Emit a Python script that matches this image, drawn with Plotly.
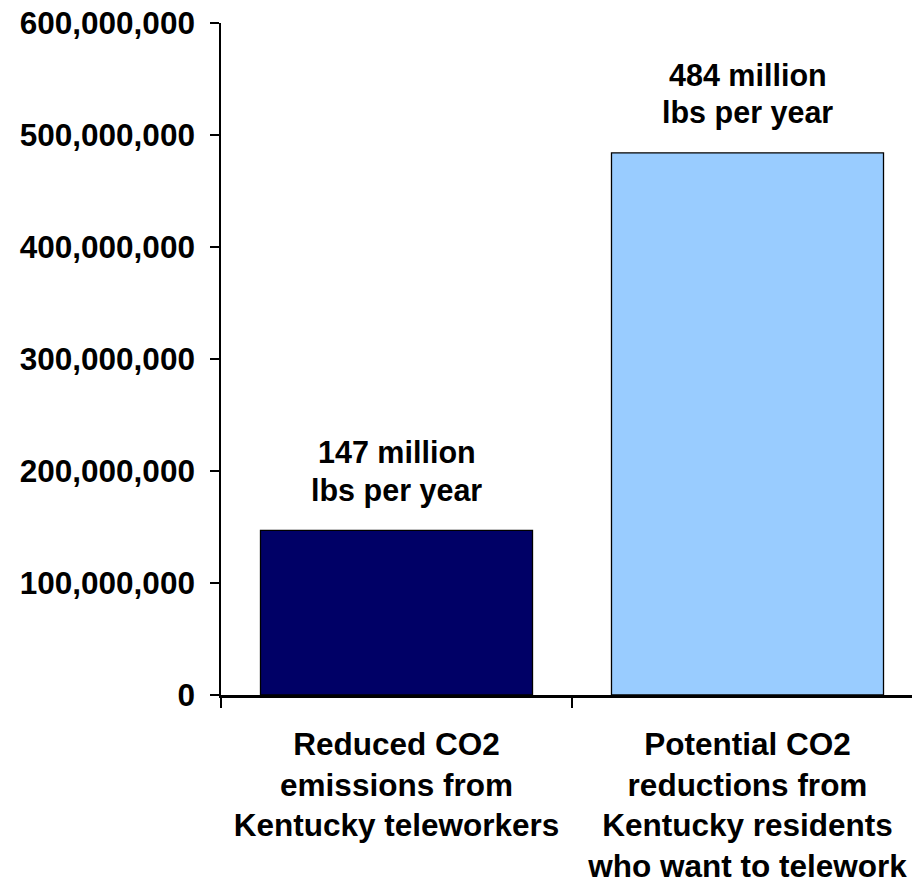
import plotly.graph_objects as go

categories = [
    "Reduced CO2<br>emissions from<br>Kentucky teleworkers",
    "Potential CO2<br>reductions from<br>Kentucky residents<br>who want to telework",
]
values = [147000000, 484000000]
bar_colors = ["#000066", "#99CCFF"]
label_line1 = ["147 million", "484 million"]
label_line2 = ["lbs per year", "lbs per year"]
y_ticks = [0, 100000000, 200000000, 300000000, 400000000, 500000000, 600000000]

FONT = "Liberation Sans, Arial, sans-serif"

fig = go.Figure()
fig.add_trace(go.Bar(
    x=categories,
    y=values,
    marker=dict(color=bar_colors, line=dict(color="#000000", width=1.3)),
    hoverinfo="skip",
))

annotations = []
for cat, val, l1, l2 in zip(categories, values, label_line1, label_line2):
    annotations.append(dict(x=cat, y=val, xref="x", yref="y", text=l1, showarrow=False,
                            yanchor="middle", yshift=78,
                            font=dict(family=FONT, size=30.5, color="black", weight="bold")))
    annotations.append(dict(x=cat, y=val, xref="x", yref="y", text=l2, showarrow=False,
                            yanchor="middle", yshift=40,
                            font=dict(family=FONT, size=30.5, color="black", weight="bold")))

fig.update_layout(
    width=920, height=882,
    margin=dict(l=213, r=5, t=15, b=194.5, autoexpand=False),
    paper_bgcolor="white", plot_bgcolor="white",
    showlegend=False,
    bargap=0.225,
    annotations=annotations,
    font=dict(family=FONT, color="black"),
)
fig.update_yaxes(
    range=[0, 600000000],
    tickvals=y_ticks,
    tickformat=",d",
    automargin=False,
    ticklabeloverflow="allow",
    showgrid=False, zeroline=False,
    showline=True, linecolor="black", linewidth=1.5,
    ticks="outside", ticklen=9, tickwidth=1.5, tickcolor="black",
    tickfont=dict(family=FONT, size=31.5, color="black", weight="bold"),
    ticklabelstandoff=9,
)
fig.update_xaxes(
    automargin=False,
    ticklabeloverflow="allow",
    showgrid=False, zeroline=False,
    showline=True, linecolor="black", linewidth=2.5,
    ticks="outside", ticklen=10, tickwidth=1.5, tickcolor="black",
    tickson="boundaries",
    tickfont=dict(family=FONT, size=31.5, color="black", weight="bold"),
    ticklabelstandoff=19,
)

fig.write_html("out.html")
